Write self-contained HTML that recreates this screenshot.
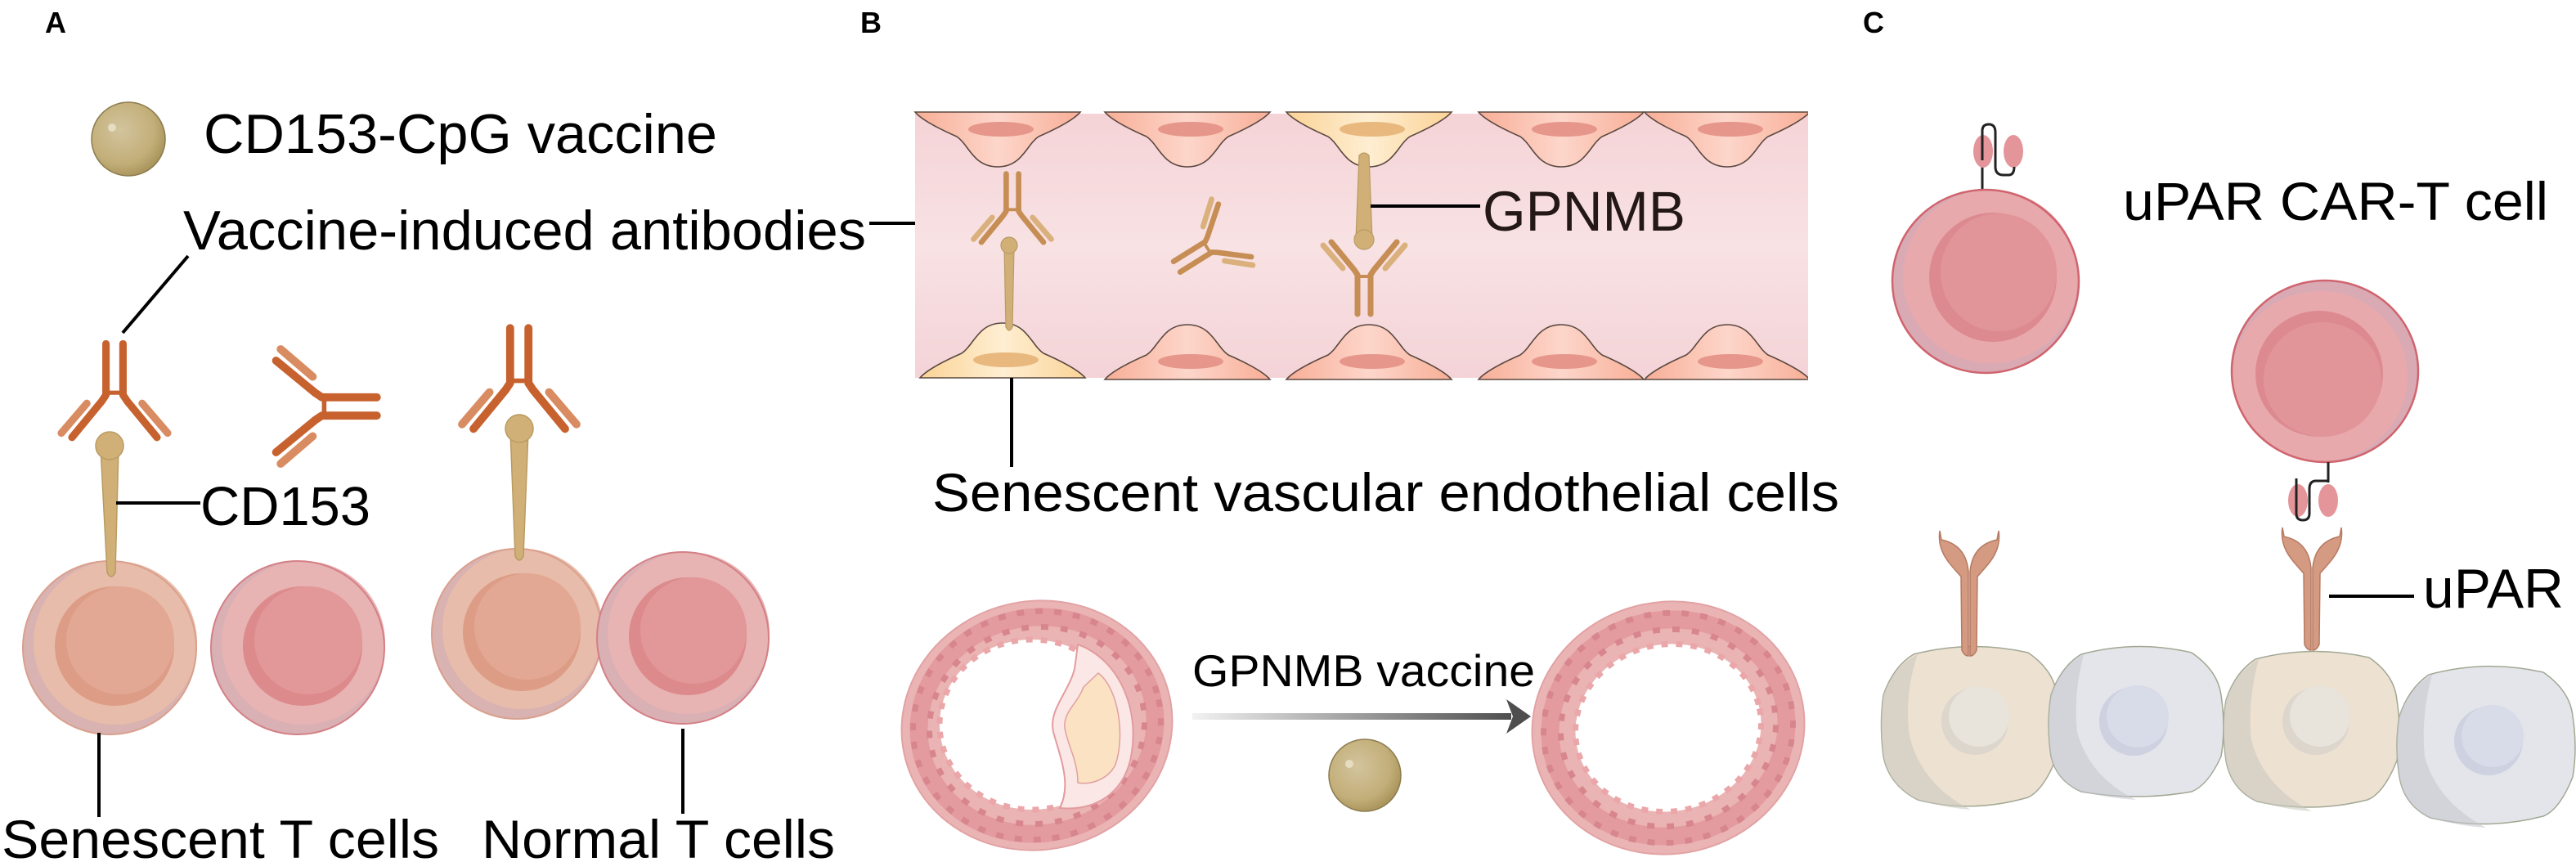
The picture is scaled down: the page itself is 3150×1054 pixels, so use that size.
<!DOCTYPE html>
<html><head><meta charset="utf-8"><style>html,body{margin:0;padding:0;background:#fff}svg{display:block}</style></head>
<body>
<svg width="3150" height="1054" viewBox="0 0 3150 1054" xmlns="http://www.w3.org/2000/svg" font-family="Liberation Sans, Arial, sans-serif">
<defs>
  <radialGradient id="sph" cx="0.4" cy="0.38" r="0.65">
    <stop offset="0" stop-color="#d3c49e"/><stop offset="0.7" stop-color="#c2ae78"/><stop offset="1" stop-color="#a8935a"/>
  </radialGradient>
  <linearGradient id="band" x1="0" y1="0" x2="0" y2="1">
    <stop offset="0" stop-color="#f5d3d7"/><stop offset="0.5" stop-color="#f8e2e4"/><stop offset="1" stop-color="#f4d3d7"/>
  </linearGradient>
  <linearGradient id="cellP" x1="0" y1="0" x2="1" y2="0">
    <stop offset="0" stop-color="#f8ae96"/><stop offset="0.5" stop-color="#fdd6cb"/><stop offset="1" stop-color="#f8ae96"/>
  </linearGradient>
  <linearGradient id="cellY" x1="0" y1="0" x2="1" y2="0">
    <stop offset="0" stop-color="#fbd396"/><stop offset="0.5" stop-color="#feeed2"/><stop offset="1" stop-color="#fbd396"/>
  </linearGradient>
  <linearGradient id="arr" gradientUnits="userSpaceOnUse" x1="1458" y1="0" x2="1850" y2="0">
    <stop offset="0" stop-color="#f2f2f2"/><stop offset="1" stop-color="#4e4e4e"/>
  </linearGradient>
  <path id="topcell" d="M0,0 L202,0 Q192,12 151,30 C136,40 131,67 101,67 C71,67 66,40 51,30 Q10,12 0,0 Z"/>
  <g id="abA" fill="none" stroke-linecap="round" stroke-linejoin="round">
    <line x1="-26" y1="-4" x2="-50" y2="-32" stroke="#d98c62" stroke-width="7"/>
    <line x1="26" y1="-4" x2="50" y2="-32" stroke="#d98c62" stroke-width="7"/>
    <polyline points="-8,52 -8,4 -12,-2 -40,-36" stroke="#c7622f" stroke-width="7"/>
    <polyline points="8,52 8,4 12,-2 40,-36" stroke="#c7622f" stroke-width="7"/>
    <line x1="-8" y1="6" x2="8" y2="6" stroke="#c7622f" stroke-width="4"/>
  </g>
  <g id="abB" fill="none" stroke-linecap="round" stroke-linejoin="round">
    <line x1="-26" y1="-4" x2="-50" y2="-32" stroke="#dab07c" stroke-width="7"/>
    <line x1="26" y1="-4" x2="50" y2="-32" stroke="#dab07c" stroke-width="7"/>
    <polyline points="-8,52 -8,4 -12,-2 -40,-36" stroke="#c68e54" stroke-width="7"/>
    <polyline points="8,52 8,4 12,-2 40,-36" stroke="#c68e54" stroke-width="7"/>
    <line x1="-8" y1="6" x2="8" y2="6" stroke="#c68e54" stroke-width="4"/>
  </g>
  <clipPath id="bandclip"><rect x="1100" y="120" width="1111" height="360"/></clipPath>
</defs>

<!-- ========== PANEL A ========== -->
<text x="55" y="40" font-size="36" font-weight="bold">A</text>
<circle cx="157" cy="170" r="45" fill="url(#sph)" stroke="#8c7b4e" stroke-width="1.5"/>
<circle cx="137" cy="156" r="5" fill="#e6dcc2"/>
<text x="249" y="187" font-size="68" textLength="628" lengthAdjust="spacingAndGlyphs">CD153-CpG vaccine</text>
<text x="224" y="305" font-size="68" textLength="835" lengthAdjust="spacingAndGlyphs">Vaccine-induced antibodies</text>
<line x1="230" y1="313" x2="150" y2="407" stroke="#000" stroke-width="4"/>
<line x1="1063" y1="273" x2="1199" y2="273" stroke="#000" stroke-width="4"/>

<g>
  <circle cx="134" cy="792" r="106" fill="#d9b2b2"/>
  <circle cx="141" cy="786" r="100" fill="#e8bcaa"/>
  <circle cx="134" cy="792" r="106" fill="none" stroke="#d9a08c" stroke-width="2"/>
  <circle cx="140" cy="790" r="73" fill="#dd9c86"/>
  <circle cx="147" cy="783" r="66" fill="#e2a893"/>
</g>
<g>
  <circle cx="364" cy="792" r="106" fill="#d9b0b4"/>
  <circle cx="371" cy="786" r="100" fill="#e8b3b3"/>
  <circle cx="364" cy="792" r="106" fill="none" stroke="#d47f86" stroke-width="2"/>
  <circle cx="370" cy="790" r="73" fill="#dc8a8c"/>
  <circle cx="377" cy="783" r="66" fill="#e29798"/>
</g>
<g>
  <circle cx="632" cy="775" r="104" fill="#d9b2b2"/>
  <circle cx="639" cy="769" r="98" fill="#e8bcaa"/>
  <circle cx="632" cy="775" r="104" fill="none" stroke="#d9a08c" stroke-width="2"/>
  <circle cx="638" cy="773" r="72" fill="#dd9c86"/>
  <circle cx="645" cy="766" r="65" fill="#e2a893"/>
</g>
<g>
  <circle cx="835" cy="780" r="105" fill="#d9b0b4"/>
  <circle cx="842" cy="774" r="99" fill="#e8b3b3"/>
  <circle cx="835" cy="780" r="105" fill="none" stroke="#d47f86" stroke-width="2"/>
  <circle cx="841" cy="778" r="72" fill="#dc8a8c"/>
  <circle cx="848" cy="771" r="65" fill="#e29798"/>
</g>

<g fill="#d1b078" stroke="#b99b62" stroke-width="1.5">
  <path d="M123,548 L145,548 L141,700 Q136,710 131,700 Z"/>
  <circle cx="134" cy="545" r="17"/>
  <path d="M624,527 L646,527 L640,680 Q635,690 630,680 Z"/>
  <circle cx="635" cy="524" r="17"/>
</g>
<use href="#abA" transform="translate(140,488) rotate(180) scale(1.3)"/>
<use href="#abA" transform="translate(635,474) rotate(180) scale(1.4)"/>
<use href="#abA" transform="translate(388,497) rotate(-90) scale(1.4)"/>

<text x="245" y="642" font-size="67" textLength="208" lengthAdjust="spacingAndGlyphs">CD153</text>
<line x1="142" y1="615" x2="245" y2="615" stroke="#000" stroke-width="4"/>
<line x1="121" y1="896" x2="121" y2="999" stroke="#000" stroke-width="4"/>
<line x1="835" y1="891" x2="835" y2="995" stroke="#000" stroke-width="4"/>
<text x="2" y="1049" font-size="66" textLength="535" lengthAdjust="spacingAndGlyphs">Senescent T cells</text>
<text x="589" y="1049" font-size="66" textLength="432" lengthAdjust="spacingAndGlyphs">Normal T cells</text>

<!-- ========== PANEL B ========== -->
<text x="1052" y="40" font-size="36" font-weight="bold">B</text>
<rect x="1119" y="139" width="1092" height="323" fill="url(#band)"/>
<g clip-path="url(#bandclip)" stroke="#5a4840" stroke-width="1.6">
  <use href="#topcell" transform="translate(1119,137)" fill="url(#cellP)"/>
  <use href="#topcell" transform="translate(1351,137)" fill="url(#cellP)"/>
  <use href="#topcell" transform="translate(1573,137)" fill="url(#cellY)"/>
  <use href="#topcell" transform="translate(1808,137)" fill="url(#cellP)"/>
  <use href="#topcell" transform="translate(2011,137)" fill="url(#cellP)"/>
  <use href="#topcell" transform="translate(1125,462) scale(1,-1)" fill="url(#cellY)"/>
  <use href="#topcell" transform="translate(1351,464) scale(1,-1)" fill="url(#cellP)"/>
  <use href="#topcell" transform="translate(1573,464) scale(1,-1)" fill="url(#cellP)"/>
  <use href="#topcell" transform="translate(1808,464) scale(1,-1)" fill="url(#cellP)"/>
  <use href="#topcell" transform="translate(2011,464) scale(1,-1)" fill="url(#cellP)"/>
</g>
<g clip-path="url(#bandclip)">
  <ellipse cx="1224" cy="158" rx="40" ry="9" fill="#e6968a"/>
  <ellipse cx="1456" cy="158" rx="40" ry="9" fill="#e6968a"/>
  <ellipse cx="1678" cy="158" rx="40" ry="9" fill="#e8b87e"/>
  <ellipse cx="1913" cy="158" rx="40" ry="9" fill="#e6968a"/>
  <ellipse cx="2116" cy="158" rx="40" ry="9" fill="#e6968a"/>
  <ellipse cx="1230" cy="440" rx="40" ry="9" fill="#e8b87e"/>
  <ellipse cx="1456" cy="442" rx="40" ry="9" fill="#e6968a"/>
  <ellipse cx="1678" cy="442" rx="40" ry="9" fill="#e6968a"/>
  <ellipse cx="1913" cy="442" rx="40" ry="9" fill="#e6968a"/>
  <ellipse cx="2116" cy="442" rx="40" ry="9" fill="#e6968a"/>
</g>
<g fill="#d1b078" stroke="#b99b62" stroke-width="1.2">
  <path d="M1228,302 L1240,302 L1238,400 Q1234,408 1230,400 Z"/>
  <circle cx="1234" cy="300" r="10"/>
  <path d="M1662,190 Q1668,184 1674,190 L1678,292 L1658,292 Z"/>
  <circle cx="1668" cy="293" r="12"/>
</g>
<use href="#abB" transform="translate(1238,262) rotate(180) scale(0.95)"/>
<use href="#abB" transform="translate(1668,332)"/>
<use href="#abB" transform="translate(1481,300) rotate(58) scale(0.95)"/>

<line x1="1676" y1="252" x2="1810" y2="252" stroke="#000" stroke-width="4"/>
<text x="1813" y="282" font-size="69" fill="#231816" textLength="248" lengthAdjust="spacingAndGlyphs">GPNMB</text>
<line x1="1237" y1="462" x2="1237" y2="571" stroke="#000" stroke-width="4"/>
<text x="1140" y="625" font-size="66" textLength="1109" lengthAdjust="spacingAndGlyphs">Senescent vascular endothelial cells</text>

<g transform="rotate(-12 1268 887)">
  <ellipse cx="1268" cy="887" rx="166" ry="152" fill="#ebb4b4" stroke="#e2a2a4" stroke-width="2"/>
  <ellipse cx="1268" cy="887" rx="145" ry="132" fill="none" stroke="#e39ba0" stroke-width="22"/>
  <ellipse cx="1268" cy="887" rx="152" ry="139" fill="none" stroke="#d8868e" stroke-width="7" stroke-dasharray="9 14"/>
  <ellipse cx="1268" cy="887" rx="132" ry="120" fill="none" stroke="#d8868e" stroke-width="7" stroke-dasharray="9 15"/>
</g>
<ellipse cx="1262" cy="886" rx="113" ry="104" fill="#fff" stroke="#eaa6a8" stroke-width="7" stroke-dasharray="8 10"/>
<path d="M1318,788 C1368,806 1396,868 1382,930 C1372,970 1340,992 1296,988 C1310,960 1298,930 1288,895 C1282,868 1306,848 1314,818 Z" fill="#fbe8e6" stroke="#e39ca0" stroke-width="2"/>
<path d="M1343,823 C1368,842 1376,900 1364,935 C1354,955 1330,960 1318,957 C1318,930 1305,910 1302,890 C1300,870 1318,860 1325,840 Z" fill="#fbe2c2" stroke="#e0a0a0" stroke-width="1.5"/>

<rect x="1458" y="872" width="390" height="8" fill="url(#arr)"/>
<polygon points="1842,855 1872,876 1842,897 1850,876" fill="#4e4e4e"/>
<text x="1458" y="839" font-size="55" textLength="419" lengthAdjust="spacingAndGlyphs">GPNMB vaccine</text>
<circle cx="1669" cy="948" r="44" fill="url(#sph)" stroke="#8c7b4e" stroke-width="1.5"/>
<circle cx="1650" cy="934" r="5" fill="#e6dcc2"/>

<g transform="rotate(-12 2040 890)">
  <ellipse cx="2040" cy="890" rx="167" ry="154" fill="#ebb4b4" stroke="#e2a2a4" stroke-width="2"/>
  <ellipse cx="2040" cy="890" rx="145" ry="132" fill="none" stroke="#e39ba0" stroke-width="22"/>
  <ellipse cx="2040" cy="890" rx="153" ry="140" fill="none" stroke="#d8868e" stroke-width="7" stroke-dasharray="9 14"/>
  <ellipse cx="2040" cy="890" rx="132" ry="120" fill="none" stroke="#d8868e" stroke-width="7" stroke-dasharray="9 15"/>
  <ellipse cx="2040" cy="890" rx="114" ry="102" fill="#fff" stroke="#eaa6a8" stroke-width="7" stroke-dasharray="8 10"/>
</g>

<!-- ========== PANEL C ========== -->
<text x="2278" y="40" font-size="36" font-weight="bold">C</text>
<line x1="2424" y1="195" x2="2424" y2="234" stroke="#222" stroke-width="3"/>
<ellipse cx="2425" cy="185" rx="12" ry="20" fill="#e3959a"/>
<ellipse cx="2462" cy="185" rx="12" ry="20" fill="#e3959a"/>
<path d="M2424,196 L2424,160 Q2424,152 2432,152 Q2440,152 2440,162 L2440,204 Q2440,214 2450,214 L2456,214 Q2463,214 2463,204" fill="none" stroke="#222" stroke-width="3"/>
<ellipse cx="2428" cy="344" rx="114" ry="112" fill="#d9aab4"/>
<ellipse cx="2434" cy="338" rx="107" ry="106" fill="#e8a9ac"/>
<ellipse cx="2428" cy="344" rx="114" ry="112" fill="none" stroke="#d0646e" stroke-width="2.5"/>
<ellipse cx="2437" cy="339" rx="78" ry="79" fill="#dc8a90"/>
<ellipse cx="2444" cy="333" rx="71" ry="72" fill="#e19599"/>
<text x="2596" y="269" font-size="66" textLength="520" lengthAdjust="spacingAndGlyphs">uPAR CAR-T cell</text>

<ellipse cx="2843" cy="454" rx="114" ry="111" fill="#d9aab4"/>
<ellipse cx="2837" cy="460" rx="107" ry="104" fill="#e8a9ac"/>
<ellipse cx="2843" cy="454" rx="114" ry="111" fill="none" stroke="#d0646e" stroke-width="2.5"/>
<ellipse cx="2836" cy="457" rx="78" ry="77" fill="#dc8a90"/>
<ellipse cx="2840" cy="464" rx="72" ry="70" fill="#e19599"/>
<line x1="2847" y1="565" x2="2847" y2="590" stroke="#222" stroke-width="3"/>
<ellipse cx="2810" cy="612" rx="12" ry="20" fill="#e3959a"/>
<ellipse cx="2847" cy="612" rx="12" ry="20" fill="#e3959a"/>
<path d="M2847,588 L2832,588 Q2824,588 2824,598 L2824,628 Q2824,636 2816,636 Q2808,636 2808,628 L2808,585" fill="none" stroke="#222" stroke-width="3"/>

<g stroke="#a2a894" stroke-width="1.5" stroke-linejoin="round">
  <path d="M2340,800 Q2410,782 2480,798 Q2512,820 2515,850 Q2520,890 2515,925 Q2500,965 2480,975 Q2410,995 2345,978 Q2310,960 2303,925 Q2298,885 2303,850 Q2315,815 2340,800 Z" fill="#ede1d2"/>
  <path d="M2545,800 Q2612,782 2680,798 Q2712,820 2716,850 Q2722,890 2716,925 Q2700,960 2680,968 Q2612,980 2545,968 Q2515,955 2508,925 Q2502,885 2508,850 Q2520,815 2545,800 Z" fill="#e4e5ea"/>
  <path d="M2758,806 Q2827,788 2897,804 Q2928,825 2931,856 Q2937,895 2931,930 Q2915,970 2895,978 Q2827,995 2760,980 Q2728,965 2722,930 Q2716,890 2722,856 Q2733,822 2758,806 Z" fill="#ede1d2"/>
  <path d="M2970,825 Q3040,806 3110,822 Q3143,845 3146,876 Q3152,915 3146,950 Q3130,990 3110,998 Q3040,1016 2972,1000 Q2940,985 2934,950 Q2928,910 2934,876 Q2945,842 2970,825 Z" fill="#e4e5ea"/>
</g>
<g opacity="0.55">
  <path d="M2303,850 Q2298,885 2303,925 Q2310,960 2345,978 Q2380,988 2410,990 Q2350,960 2335,900 Q2328,850 2345,800 Q2315,815 2303,850 Z" fill="#c9c8be"/>
  <path d="M2508,850 Q2502,885 2508,925 Q2515,955 2545,968 Q2580,976 2612,978 Q2555,950 2540,895 Q2535,850 2548,800 Q2520,815 2508,850 Z" fill="#c4c5cc"/>
  <path d="M2722,856 Q2716,890 2722,930 Q2728,965 2760,980 Q2795,990 2827,992 Q2768,962 2753,905 Q2748,858 2762,806 Q2733,822 2722,856 Z" fill="#c9c8be"/>
  <path d="M2934,876 Q2928,910 2934,950 Q2940,985 2972,1000 Q3006,1010 3040,1012 Q2980,980 2965,925 Q2960,878 2974,825 Q2945,842 2934,876 Z" fill="#c4c5cc"/>
</g>
<circle cx="2415" cy="882" r="41" fill="#ddd6cc"/><circle cx="2420" cy="876" r="37" fill="#e8e3db"/>
<circle cx="2609" cy="882" r="42" fill="#cdd1e0"/><circle cx="2614" cy="876" r="38" fill="#d8dbe8"/>
<circle cx="2832" cy="882" r="41" fill="#ddd6cc"/><circle cx="2837" cy="876" r="37" fill="#e8e3db"/>
<circle cx="3043" cy="906" r="42" fill="#cdd1e0"/><circle cx="3048" cy="900" r="38" fill="#d8dbe8"/>

<g fill="#d49b82" stroke="#b67a62" stroke-width="1.5">
  <path d="M2407,802 L2407,699 C2405,676 2393,664 2374,660 L2372,649 C2368,675 2385,690 2398,705 L2399,795 Q2402,802 2407,802 Z"/>
  <path d="M2409,802 L2409,699 C2411,676 2423,664 2442,660 L2444,649 C2448,675 2431,690 2418,705 L2417,795 Q2414,802 2409,802 Z"/>
  <path d="M2826,795 L2826,695 C2824,672 2812,660 2793,656 L2791,645 C2787,671 2804,686 2817,701 L2818,788 Q2821,795 2826,795 Z"/>
  <path d="M2828,795 L2828,695 C2830,672 2842,660 2861,656 L2863,645 C2867,671 2850,686 2837,701 L2836,788 Q2833,795 2828,795 Z"/>
</g>
<line x1="2848" y1="729" x2="2952" y2="729" stroke="#000" stroke-width="4"/>
<text x="2963" y="743" font-size="68" textLength="172" lengthAdjust="spacingAndGlyphs">uPAR</text>
</svg>
</body></html>
